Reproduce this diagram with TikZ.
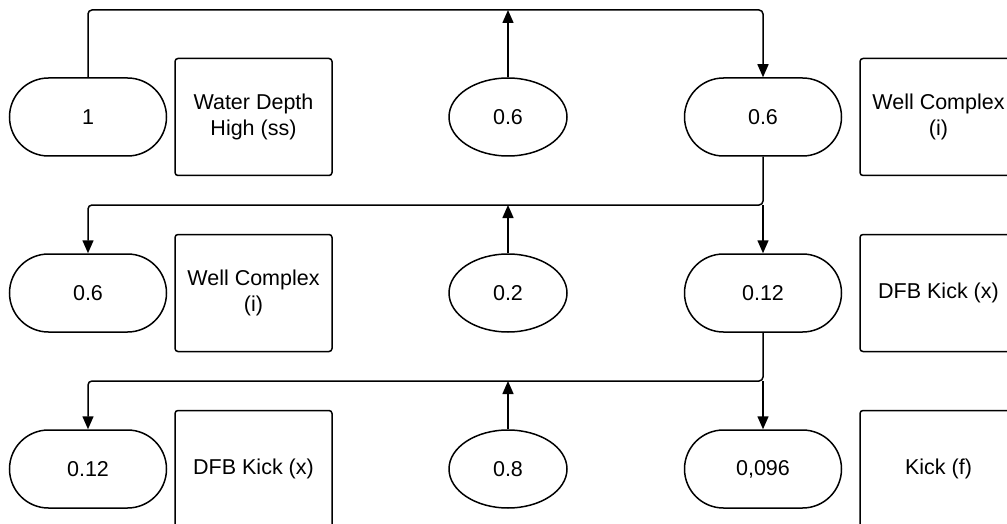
\documentclass[tikz,border=0pt]{standalone}
\usepackage{fontspec}
\setmainfont{Liberation Sans}
\setsansfont{Liberation Sans}
\usetikzlibrary{arrows.meta,shapes.geometric,shapes.misc}

\tikzset{
  pill/.style={draw,line width=1.5pt,rounded rectangle,minimum width=157pt,minimum height=78pt,inner sep=0pt},
  prob/.style={draw,line width=1.5pt,ellipse,minimum width=118pt,minimum height=78pt,inner sep=0pt},
  label box/.style={draw,line width=1.5pt,rounded corners=3pt,minimum width=157pt,minimum height=117pt,align=center,inner sep=0pt},
  link/.style={line width=1.5pt,rounded corners=4pt,-{Triangle[length=13pt,width=11pt]}},
}

\begin{document}
\begin{tikzpicture}[x=1pt,y=-1pt,font=\sffamily\fontsize{21.5}{25.5}\selectfont]
	\useasboundingbox (0,0) rectangle (1007,524);
	\clip (0,0) rectangle (1007,524);
	\foreach \r/\y/\a/\b/\c/\d/\e in {
		1/117/{1}/{Water Depth\\High (ss)}/{0.6}/{0.6}/{Well Complex\\(i)},
		2/293/{0.6}/{Well Complex\\(i)}/{0.2}/{0.12}/{DFB Kick (x)},
		3/469/{0.12}/{DFB Kick (x)}/{0.8}/{{0,096}}/{Kick (f)}} {
		\node [pill] (l\r) at (88,\y) {\a};
		\node [label box] (n\r) at (253.5,\y) {\b};
		\node [prob] (e\r) at (508,\y) {\c};
		\node [pill] (r\r) at (763,\y) {\d};
		\node [label box] (m\r) at (938.5,\y) {\e};
	}
	% top line
	\coordinate (j1) at (508,10);
	\draw [link] (l1.north) |- (j1) -| (r1.north);
	\draw [link] (e1.north) -- (j1);
	% second and third levels
	\coordinate (j2) at (508,205);
	\coordinate (j3) at (508,381);
	\draw [link] (r1.south) |- (j2) -| (l2.north);
	\draw [link] (r1.south |- j2) -- (r2.north);
	\draw [link] (e2.north) -- (j2);
	\draw [link] (r2.south) |- (j3) -| (l3.north);
	\draw [link] (r2.south |- j3) -- (r3.north);
	\draw [link] (e3.north) -- (j3);
\end{tikzpicture}
\end{document}
